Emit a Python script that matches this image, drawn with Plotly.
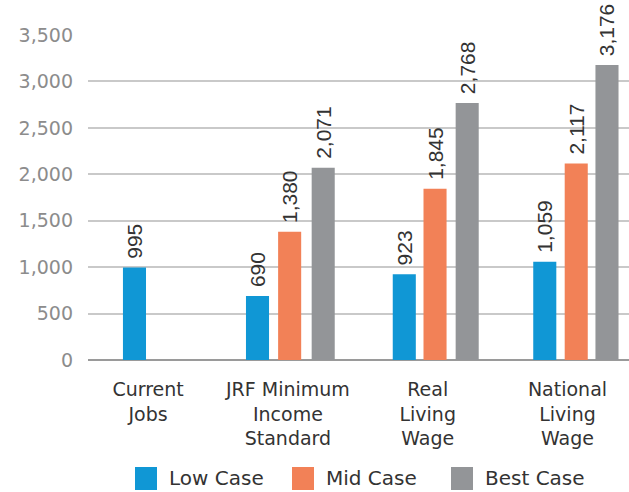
import plotly.graph_objects as go

categories = ["Current<br>Jobs", "JRF Minimum<br>Income<br>Standard", "Real<br>Living<br>Wage", "National<br>Living<br>Wage"]
low_case = [995, 690, 923, 1059]
mid_case = [None, 1380, 1845, 2117]
best_case = [None, 2071, 2768, 3176]
y_ticks = [0, 500, 1000, 1500, 2000, 2500, 3000, 3500]
series_names = ["Low Case", "Mid Case", "Best Case"]

colors = {"Low Case": "#1097d5", "Mid Case": "#f28157", "Best Case": "#939598"}
bar_w = 0.165
offsets = {
    "Low Case": [-0.18, -0.30, -0.25, -0.245],
    "Mid Case": [0, -0.07, -0.03, -0.02],
    "Best Case": [0, 0.17, 0.20, 0.20],
}

x_idx = list(range(len(categories)))

fig = go.Figure()
for name, vals in zip(series_names, [low_case, mid_case, best_case]):
    fig.add_trace(go.Bar(
        x=x_idx, y=vals, name=name,
        marker=dict(color=colors[name], line=dict(width=0)),
        width=bar_w, offset=offsets[name],
        text=[("\u00a0" + f"{v:,}") if v is not None else "" for v in vals],
        textposition="outside", textangle=-90, constraintext="none",
        textfont=dict(family="Liberation Sans, Arial", size=21, color="#333333"),
        cliponaxis=False, showlegend=False, hoverinfo="skip",
    ))

# legend drawn as large squares + labels (paper coords)
W_PLOT, H_PLOT, L, T = 541, 325, 88, 35
def px_x(p):
    return (p - L) / W_PLOT
def px_y(p):
    return (T + H_PLOT - p) / H_PLOT

legend_sq_x = [135, 292, 451]
for name, sx in zip(series_names, legend_sq_x):
    fig.add_shape(type="rect", xref="paper", yref="paper",
                  x0=px_x(sx), x1=px_x(sx + 22), y0=px_y(490), y1=px_y(467),
                  fillcolor=colors[name], line=dict(width=0))
    fig.add_annotation(xref="paper", yref="paper", x=px_x(sx + 32), y=px_y(478),
                       xanchor="left", yanchor="middle", showarrow=False, text=name,
                       font=dict(family="DejaVu Sans", size=20, color="#333333"))

fig.update_layout(
    width=629, height=492,
    margin=dict(l=L, r=0, t=T, b=492 - T - H_PLOT),
    paper_bgcolor="white", plot_bgcolor="white",
    barmode="overlay",
    showlegend=False,
)
fig.update_xaxes(
    tickmode="array", tickvals=x_idx, ticktext=categories,
    range=[-0.43, 3.44], automargin=False,
    tickfont=dict(family="DejaVu Sans", size=19, color="#333333"),
    showgrid=False, zeroline=False, showline=False, ticks="", ticklabelstandoff=16,
)
fig.update_yaxes(
    range=[0, 3500], tickvals=y_ticks, tickformat=",", automargin=False,
    tickfont=dict(family="DejaVu Sans", size=19, color="#8c8c8c"),
    showgrid=True, gridcolor="#c9c9c9", gridwidth=1.5,
    zeroline=True, zerolinecolor="#9a9a9a", zerolinewidth=1.5,
    showline=False, ticks="", ticklabelstandoff=14,
)

fig.write_html("out.html", config={"displayModeBar": False},
               post_script="document.body.style.margin='0';document.body.style.overflow='hidden';")
